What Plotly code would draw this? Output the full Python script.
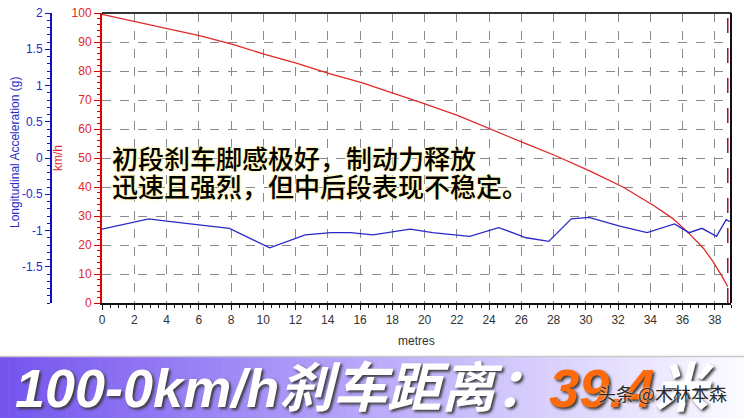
import plotly.graph_objects as go

# ---------------- data ----------------
speed_dist = [0, 2.1, 4.0, 6.1, 8.1, 10.1, 12.1, 14.1, 16.1, 18.2, 19.7, 22.0, 24.2,
              26.2, 28.2, 30.3, 32.3, 34.2, 35.4, 36.4, 37.3, 37.9, 38.4, 38.8]
speed_kmh = [99.5, 96.9, 94.8, 92.1, 89.2, 85.7, 82.6, 79.1, 76.0, 72.2, 69.3, 64.8, 59.6,
             55.1, 50.6, 45.4, 40.0, 33.6, 29.1, 24.0, 18.8, 14.2, 9.6, 5.6]

accel_dist = [0, 2.9, 4.0, 6.0, 7.9, 10.4, 12.6, 14.2, 15.4, 16.8, 19.1, 20.5, 22.8,
              24.6, 26.3, 27.7, 29.1, 30.2, 32.1, 33.8, 35.5, 36.4, 37.2, 38.1, 38.7, 38.95]
accel_g = [-0.98, -0.84, -0.87, -0.92, -0.97, -1.24, -1.06, -1.03, -1.03, -1.06, -0.98, -1.03, -1.08,
           -0.96, -1.10, -1.15, -0.84, -0.82, -0.94, -1.03, -0.91, -1.03, -0.97, -1.08, -0.85, -0.88]

stop_marker_m = 38.8

x_ticks = list(range(0, 39, 2))
speed_ticks = list(range(0, 101, 10))
accel_ticks = [-1.5, -1, -0.5, 0, 0.5, 1, 1.5, 2]
accel_tick_text = ["-1.5", "-1", "-0.5", "0", "0.5", "1", "1.5", "2"]

x_title = "metres"
speed_title = "km/h"
accel_title = "Longitudinal Acceleration (g)"
note_lines = ["初段刹车脚感极好，制动力释放", "迅速且强烈，但中后段表现不稳定。"]
banner_main = "100-0km/h刹车距离："
banner_value = "39.4"
banner_unit = "米"
watermark = "头条 @木林本森"

# ---------------- geometry ----------------
W, H = 744, 418
ML, MR, MT, MB = 40, 13, 13, 115
PW, PH = W - ML - MR, H - MT - MB


def px(x):
    return (x - ML) / PW


def py(y):
    return (H - MB - y) / PH


RED = "#e02828"
RED_AX = "#e00000"
BLUE = "#2a2ac8"
BLUE_AX = "#1010c0"
TICKFONT = "Liberation Sans, Arial, sans-serif"
CJK = "Noto Sans CJK SC, sans-serif"

fig = go.Figure()

fig.add_trace(go.Scatter(
    x=speed_dist, y=speed_kmh, mode="lines", yaxis="y",
    line=dict(color=RED, width=1.3), showlegend=False, hoverinfo="skip"))
fig.add_trace(go.Scatter(
    x=accel_dist, y=accel_g, mode="lines", yaxis="y2",
    line=dict(color=BLUE, width=1.3), showlegend=False, hoverinfo="skip"))

shapes = []
# plot frame: top and right
shapes.append(dict(type="line", xref="x domain", yref="y domain", x0=0, x1=1, y0=1, y1=1,
                   line=dict(color="#333333", width=2)))
shapes.append(dict(type="line", xref="x domain", yref="y domain", x0=1, x1=1, y0=0, y1=1,
                   line=dict(color="#111111", width=2)))
# stop marker line
shapes.append(dict(type="line", xref="x", yref="y domain", x0=stop_marker_m, x1=stop_marker_m,
                   y0=0, y1=1, line=dict(color="#a8102a", width=1.5, dash="longdash")))

# banner gradient
stops = [(0.0, (116, 84, 238)), (0.5, (186, 170, 250)), (1.0, (252, 251, 255))]


def grad(t):
    for (t0, c0), (t1, c1) in zip(stops[:-1], stops[1:]):
        if t0 <= t <= t1:
            f = (t - t0) / (t1 - t0)
            return "rgb(%d,%d,%d)" % tuple(round(a + (b - a) * f) for a, b in zip(c0, c1))
    return "rgb(%d,%d,%d)" % stops[-1][1]


N = 90
for i in range(N):
    x0 = i * W / N
    x1 = (i + 1) * W / N + 0.6
    shapes.append(dict(type="rect", xref="paper", yref="paper", x0=px(x0), x1=px(x1),
                       y0=py(418), y1=py(357), line=dict(width=0),
                       fillcolor=grad((i + 0.5) / N), layer="below"))
shapes.append(dict(type="line", xref="paper", yref="paper", x0=px(0), x1=px(W), y0=py(356.5),
                   y1=py(356.5), line=dict(color="#c8c8c8", width=1.5)))

annotations = [
    dict(text=accel_title, x=px(15), y=py(153), xref="paper", yref="paper", showarrow=False,
         xanchor="center", yanchor="middle",
         textangle=-90, font=dict(family=TICKFONT, size=12, color=BLUE)),
    dict(text=speed_title, x=px(58), y=py(158), xref="paper", yref="paper", showarrow=False,
         xanchor="center", yanchor="middle",
         textangle=-90, font=dict(family=TICKFONT, size=12, color=RED)),
    dict(text=x_title, x=px(416), y=py(341), xref="paper", yref="paper", showarrow=False,
         xanchor="center", yanchor="middle",
         font=dict(family=TICKFONT, size=12, color="#333333")),
]
for line, yc in zip(note_lines, [157, 185]):
    annotations.append(dict(
        text=line, x=px(110), y=py(yc), xref="paper", yref="paper", xanchor="left",
        yanchor="middle", showarrow=False,
        font=dict(family=CJK, size=26, color="#000000", weight=500,
                  shadow="0px 0px 3px #fff3a8, 0px 0px 3px #fff3a8, 0px 0px 2px #fffbe0")))

annotations.append(dict(
    text=banner_main + "<span style='color:#ff6a0a'>" + banner_value + "</span>" + banner_unit,
    x=px(14), y=py(388), xref="paper", yref="paper", xanchor="left", yanchor="middle",
    showarrow=False, borderpad=0,
    font=dict(family="Liberation Sans, Noto Sans CJK SC, sans-serif", size=54, color="#ffffff",
              weight="bold", style="italic", shadow="2px 2px 3px #3a3a3a")))
annotations.append(dict(
    text=watermark, x=px(596), y=py(393), xref="paper", yref="paper", xanchor="left",
    yanchor="middle", showarrow=False,
    font=dict(family=CJK, size=18, color="#2a2a2a", shadow="0px 0px 2px #ffffff")))

fig.update_layout(
    width=W, height=H,
    margin=dict(l=ML, r=MR, t=MT, b=MB, pad=0, autoexpand=False),
    paper_bgcolor="white", plot_bgcolor="white",
    showlegend=False,
    xaxis=dict(
        domain=[px(102), 1], range=[0, 39], tickvals=x_ticks, ticktext=[str(v) for v in x_ticks],
        showgrid=True, gridcolor="#8a8a8a", griddash="dash", gridwidth=1, automargin=False,
        showline=True, linecolor="#111111", linewidth=2, zeroline=False,
        ticks="outside", ticklen=5, tickcolor="#111111",
        minor=dict(dtick=0.5, ticks="outside", ticklen=3, tickcolor="#111111", showgrid=False),
        tickfont=dict(family=TICKFONT, size=12, color="#333333"), fixedrange=True),
    yaxis=dict(
        range=[0, 100], tickvals=speed_ticks, anchor="x", side="left", automargin=False,
        showgrid=True, gridcolor="#8a8a8a", griddash="dash", gridwidth=1,
        showline=True, linecolor=RED_AX, linewidth=2, zeroline=False,
        ticks="outside", ticklen=6, tickcolor=RED_AX,
        minor=dict(dtick=2, ticks="outside", ticklen=3, tickcolor=RED_AX, showgrid=False),
        tickfont=dict(family=TICKFONT, size=12, color=RED), fixedrange=True),
    yaxis2=dict(
        range=[-2, 2], tickvals=accel_ticks, ticktext=accel_tick_text, overlaying="y",
        side="left", anchor="free", position=px(51), automargin=False,
        showgrid=False, zeroline=False, showline=True, linecolor=BLUE_AX, linewidth=2,
        ticks="outside", ticklen=5, tickcolor=BLUE_AX,
        minor=dict(dtick=0.1, ticks="outside", ticklen=3, tickcolor=BLUE_AX),
        tickfont=dict(family=TICKFONT, size=12, color=BLUE), fixedrange=True),
    shapes=shapes,
    annotations=annotations,
)

fig.write_html("out.html", config={"displayModeBar": False},
               post_script="document.body.style.margin='0px';")
